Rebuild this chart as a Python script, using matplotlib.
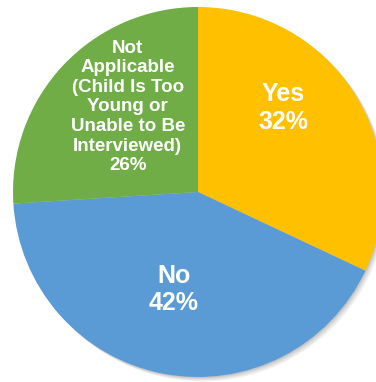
import matplotlib.pyplot as plt
import matplotlib.patches as patches

plt.rcParams['font.family'] = ['Liberation Sans', 'DejaVu Sans']

# survey answer shares, drawn clockwise from 12 o'clock
labels = ["Yes", "No", "Not\nApplicable\n(Child Is Too\nYoung or\nUnable to Be\nInterviewed)"]
shares = [32, 42, 26]
colors = ["#FFC000", "#5B9BD5", "#70AD47"]

W, H = 376, 382
fig = plt.figure(figsize=(W / 100, H / 100), dpi=100)
# pie centre at (198, 192) px from top-left, radius 185 px
cx, cy, r = 198, 192, 185
ax = fig.add_axes([(cx - r) / W, (H - cy - r) / H, 2 * r / W, 2 * r / H])

# soft drop shadow on the lower right
for i, a in enumerate([0.05, 0.05, 0.06, 0.08]):
    off = (4 - i) * 0.006
    ax.add_patch(patches.Circle((off, -off), 1.0, color="black", alpha=a,
                                lw=0, clip_on=False, zorder=0))

wedges, _ = ax.pie(shares, colors=colors, startangle=90, counterclock=False,
                   radius=1.0, wedgeprops=dict(linewidth=0))
for w in wedges:
    w.set_clip_on(False)
    w.set_zorder(1)

ax.set_xlim(-1, 1)
ax.set_ylim(-1, 1)
ax.axis('off')

# label anchor points in axes data units
pos = [(0.46, 0.455), (-0.13, -0.525), (-0.38, 0.46)]
sizes = [18, 18, 13.5]
spacing = [1.2, 1.15, 1.2]
for lab, v, (x, y), fs, ls in zip(labels, shares, pos, sizes, spacing):
    ax.text(x, y, f"{lab}\n{v}%", ha='center', va='center', color='white',
            fontsize=fs, fontweight='bold', linespacing=ls, zorder=3)

fig.savefig("out.png", dpi=100)
